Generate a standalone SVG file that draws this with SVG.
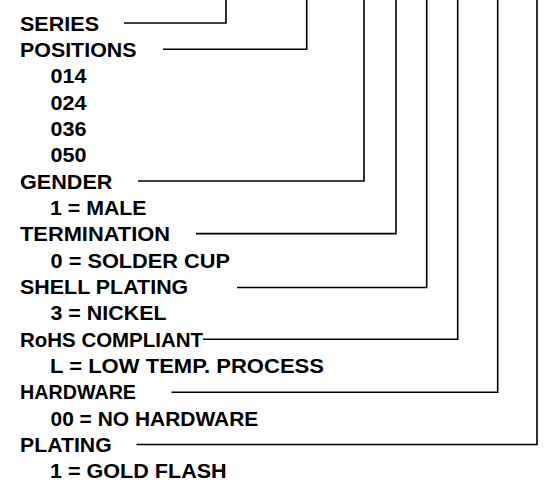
<svg xmlns="http://www.w3.org/2000/svg" width="550" height="490" viewBox="0 0 550 490">
<style>
text{font-family:"Liberation Sans",Arial,sans-serif;font-size:21px;font-weight:bold;fill:#000}
.c{fill:none;stroke:#000;stroke-width:1.6}
</style>
<rect width="550" height="490" fill="#fff"/>
<g id="series"><text x="20" y="30.7" textLength="79" lengthAdjust="spacingAndGlyphs">SERIES</text></g>
<g id="positions"><text x="20" y="57" textLength="116.5" lengthAdjust="spacingAndGlyphs">POSITIONS</text>
<text x="50.5" y="83.3" textLength="36" lengthAdjust="spacingAndGlyphs">014</text>
<text x="50.5" y="109.7" textLength="36" lengthAdjust="spacingAndGlyphs">024</text>
<text x="50.5" y="136" textLength="36" lengthAdjust="spacingAndGlyphs">036</text>
<text x="50.5" y="162.3" textLength="36" lengthAdjust="spacingAndGlyphs">050</text></g>
<g id="gender"><text x="20" y="188.7" textLength="92.5" lengthAdjust="spacingAndGlyphs">GENDER</text>
<text x="50" y="215" textLength="96.5" lengthAdjust="spacingAndGlyphs">1 = MALE</text></g>
<g id="termination"><text x="20" y="241.3" textLength="150" lengthAdjust="spacingAndGlyphs">TERMINATION</text>
<text x="50.5" y="267.7" textLength="179.5" lengthAdjust="spacingAndGlyphs">0 = SOLDER CUP</text></g>
<g id="shell-plating"><text x="20" y="294" textLength="168.3" lengthAdjust="spacingAndGlyphs">SHELL PLATING</text>
<text x="50.5" y="320.3" textLength="116" lengthAdjust="spacingAndGlyphs">3 = NICKEL</text></g>
<g id="rohs"><text x="20" y="346.7" textLength="183" lengthAdjust="spacingAndGlyphs">RoHS COMPLIANT</text>
<text x="50" y="373" textLength="274" lengthAdjust="spacingAndGlyphs">L = LOW TEMP. PROCESS</text></g>
<g id="hardware"><text x="20" y="399.3" textLength="116" lengthAdjust="spacingAndGlyphs">HARDWARE</text>
<text x="50.5" y="425.7" textLength="207.8" lengthAdjust="spacingAndGlyphs">00 = NO HARDWARE</text></g>
<g id="plating"><text x="20" y="452" textLength="91.7" lengthAdjust="spacingAndGlyphs">PLATING</text>
<text x="50" y="478.3" textLength="176.7" lengthAdjust="spacingAndGlyphs">1 = GOLD FLASH</text></g>
<g id="connectors">
<polyline class="c" points="124,23 226,23 226,0"/>
<polyline class="c" points="163,49.3 306.7,49.3 306.7,0"/>
<polyline class="c" points="138,181 364,181 364,0"/>
<polyline class="c" points="196,233.6 396,233.6 396,0"/>
<polyline class="c" points="237,287.5 426.7,287.5 426.7,0"/>
<polyline class="c" points="203,339.3 457.7,339.3 457.7,0"/>
<polyline class="c" points="171.5,392.3 497.7,392.3 497.7,0"/>
<polyline class="c" points="136.5,444.5 537,444.5 537,0"/>
</g>
</svg>
